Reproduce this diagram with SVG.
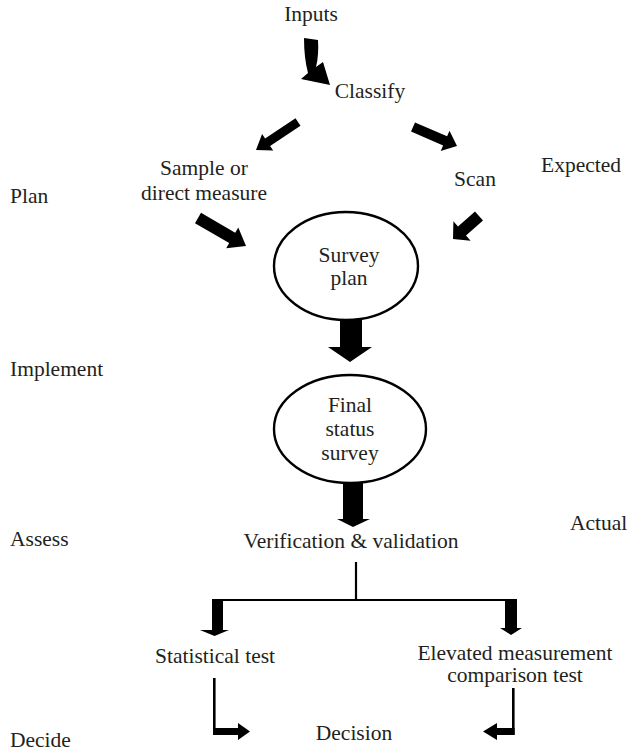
<svg xmlns="http://www.w3.org/2000/svg" width="630" height="751" viewBox="0 0 630 751">
<style>
text{font-family:"Liberation Serif","DejaVu Serif","Times New Roman",serif;font-size:21.5px;fill:#231f20}
.c{text-anchor:middle}
.arr{fill:#000}
.ln{stroke:#000;stroke-width:2.2;fill:none}
.ell{fill:#fff;stroke:#000;stroke-width:2.4}
</style>
<rect width="630" height="751" fill="#fff"/>
<g id="stage-labels">
<text x="10" y="203" font-family="Liberation Serif">Plan</text>
<text x="10" y="376" font-family="Liberation Serif">Implement</text>
<text x="10" y="546" font-family="Liberation Serif">Assess</text>
<text x="10" y="747" font-family="Liberation Serif">Decide</text>
<text x="541" y="172" font-family="Liberation Serif">Expected</text>
<text x="570" y="530" font-family="Liberation Serif">Actual</text>
</g>
<g id="connectors">
<path class="arr" d="M304 38 L318 40 Q319 55 316 67 L323 62 L330 85 L301 79 L308 73 Q304 58 304 38 Z"/>
<polygon class="arr" points="295.5,118.3 265.1,138.5 262.1,133.9 256,150 273.2,150.5 270.1,146 300.5,125.7"/>
<polygon class="arr" points="195,223.2 229.2,243.1 226.2,248.3 246,246 238.3,227.6 235.2,232.8 201,212.8"/>
<polygon class="arr" points="411,131.6 443.1,145.4 440.7,150.9 457,146 449.5,130.7 447.1,136.2 415,122.4"/>
<polygon class="arr" points="475,211.5 458,226.5 453.4,221.3 453,239 470.6,240.7 466,235.5 483,220.5"/>
<polygon class="arr" points="340,318 362,318 362,347 372,347 350,362 328,347 340,347"/>
<polygon class="arr" points="343,481 363,481 363,519 370,519 353,527 337,519 343,519"/>
<line class="ln" x1="356" y1="562" x2="356" y2="601"/>
<line class="ln" x1="212" y1="600" x2="517" y2="600"/>
<polygon class="arr" points="212,599 223,599 223,630 229,630 214.5,636 200,630 212,630"/>
<polygon class="arr" points="505,599 517,599 517,628 522,628 511,635 500,628 505,628"/>
<rect class="arr" x="213" y="678" width="2.6" height="57"/>
<polygon class="arr" points="213,728 238,728 238,723 250,731.5 238,740 238,735 213,735"/>
<rect class="arr" x="512" y="688" width="2.6" height="47"/>
<polygon class="arr" points="514.6,728 497,728 497,723 483,731.5 497,740 497,735 514.6,735"/>
</g>
<g id="inputs"><text class="c" x="311" y="21" font-family="Liberation Serif">Inputs</text></g>
<g id="classify"><text class="c" x="370" y="98" font-family="Liberation Serif">Classify</text></g>
<g id="sample"><text class="c" x="204" y="175" font-family="Liberation Serif">Sample or</text><text class="c" x="204" y="200" font-family="Liberation Serif">direct measure</text></g>
<g id="scan"><text class="c" x="475" y="186" font-family="Liberation Serif">Scan</text></g>
<g id="survey-plan"><ellipse class="ell" cx="346" cy="266" rx="72" ry="54"/><text class="c" x="349" y="262" font-family="Liberation Serif">Survey</text><text class="c" x="349" y="285" font-family="Liberation Serif">plan</text></g>
<g id="final-survey"><ellipse class="ell" cx="350" cy="429" rx="76" ry="54"/><text class="c" x="350" y="412" font-family="Liberation Serif">Final</text><text class="c" x="350" y="436" font-family="Liberation Serif">status</text><text class="c" x="350" y="460" font-family="Liberation Serif">survey</text></g>
<g id="verification"><text class="c" x="351" y="548" font-family="Liberation Serif">Verification &amp; validation</text></g>
<g id="statistical"><text class="c" x="215" y="663" font-family="Liberation Serif">Statistical test</text></g>
<g id="elevated"><text class="c" x="515" y="660" font-family="Liberation Serif">Elevated measurement</text><text class="c" x="515" y="682" font-family="Liberation Serif">comparison test</text></g>
<g id="decision"><text class="c" x="354" y="740" font-family="Liberation Serif">Decision</text></g>
</svg>
